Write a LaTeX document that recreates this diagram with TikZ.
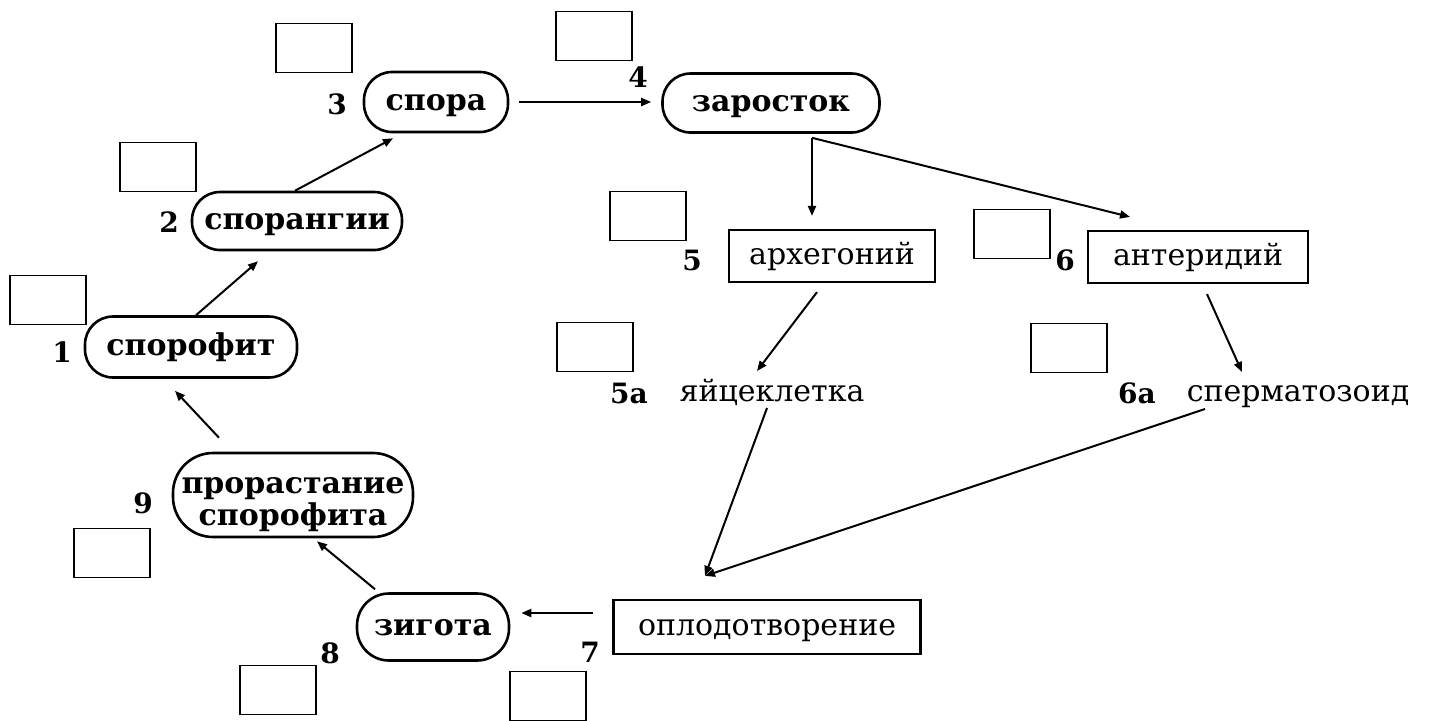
\documentclass[tikz,border=0pt]{standalone}
\usepackage{fontspec}
\setmainfont{DejaVu Serif}
\usetikzlibrary{arrows.meta}
\tikzset{
  stage/.style={draw, line width=1.3pt, rounded corners=14pt, inner sep=0pt, align=center, text height=11pt, text depth=3pt, font=\fontsize{15}{16}\selectfont\bfseries},
  organ/.style={draw, line width=1.1pt, inner sep=0pt, text height=11pt, text depth=3pt, font=\fontsize{15}{16}\selectfont},
  cell/.style={inner sep=0pt, text height=11pt, text depth=3pt, font=\fontsize{15}{16}\selectfont},
  numlbl/.style={inner sep=0pt, font=\fontsize{14}{15}\selectfont\bfseries},
  blank/.style={draw, line width=0.8pt, minimum width=38pt, minimum height=24.5pt, inner sep=0pt},
  arr/.style={-{Triangle[length=5pt,width=4pt]}, line width=1pt}
}
\begin{document}
\begin{tikzpicture}[x=0.5pt, y=-0.5pt]
  \useasboundingbox (0,0) rectangle (1434,720);
  \node[stage, minimum width=72pt, minimum height=30pt] (spora) at (436,102) {спора};
  \node[stage, minimum width=108.5pt, minimum height=29.5pt] (zarostok) at (771,103) {заросток};
  \node[stage, minimum width=105pt, minimum height=29pt] (sporangii) at (297,221) {спорангии};
  \node[stage, minimum width=106pt, minimum height=30.5pt] (sporofit) at (191,347) {спорофит};
  \node[stage, text height=32pt, text depth=2pt, rounded corners=20pt, minimum width=120pt, minimum height=42pt] (prorast) at (293,495) {прорастание\\спорофита};
  \node[stage, rounded corners=16pt, minimum width=76pt, minimum height=33.5pt] (zigota) at (433,627) {зигота};
  \node[organ, minimum width=153.5pt, minimum height=27pt] (oplod) at (767,627) {оплодотворение};
  \node[organ, minimum width=103pt, minimum height=26pt] (arhegon) at (832,256) {архегоний};
  \node[organ, minimum width=110pt, minimum height=26pt] (anterid) at (1198,257) {антеридий};
  \node[cell] (yaic) at (772,393) {яйцеклетка};
  \node[cell] (sperm) at (1298,393) {сперматозоид};

  \node[numlbl] (n1) at (62,352) {1};
  \node[numlbl] (n2) at (169,222) {2};
  \node[numlbl] (n3) at (337,104) {3};
  \node[numlbl] (n4) at (638,77) {4};
  \node[numlbl] (n5) at (692,260) {5};
  \node[numlbl] (n5a) at (629,393) {5а};
  \node[numlbl] (n6) at (1065,260) {6};
  \node[numlbl] (n6a) at (1137,393) {6а};
  \node[numlbl] (n7) at (590,652) {7};
  \node[numlbl] (n8) at (330,653) {8};
  \node[numlbl] (n9) at (143,503) {9};

  \node[blank] (b1) at (48,300) {};
  \node[blank] (b2) at (158,167) {};
  \node[blank] (b3) at (314,48) {};
  \node[blank] (b4) at (594,36) {};
  \node[blank] (b5) at (648,216) {};
  \node[blank] (b5a) at (595,347) {};
  \node[blank] (b6) at (1012,234) {};
  \node[blank] (b6a) at (1069,348) {};
  \node[blank] (b7) at (548,696) {};
  \node[blank] (b8) at (278,690) {};
  \node[blank] (b9) at (112,553) {};

  \coordinate (fork) at ([xshift=20.5pt,yshift=-2pt]zarostok.south);
  \coordinate (meet) at ([xshift=-31pt,yshift=11.5pt]oplod.north);
  \coordinate (arhtop) at ([yshift=6.5pt]arhegon.north -| fork);

  \draw[arr, shorten <=5pt, shorten >=5pt] (spora.east) -- (spora.east -| zarostok.west);
  \draw[arr] ([xshift=-1pt]sporangii.north) -- ([xshift=-21.5pt,yshift=-2.5pt]spora.south);
  \draw[arr] ([xshift=2.5pt]sporofit.north) -- ([xshift=-19.5pt,yshift=-5pt]sporangii.south);
  \draw[arr] ([xshift=-37pt,yshift=7pt]prorast.north) -- ([xshift=-8pt,yshift=-6pt]sporofit.south);
  \draw[arr] ([xshift=-29pt,yshift=1.5pt]zigota.north) -- ([xshift=12pt,yshift=-1.5pt]prorast.south);
  \draw[arr] ([xshift=-9.5pt,yshift=7pt]oplod.west) -- ([xshift=5.5pt,yshift=7pt]zigota.east);
  \draw[arr] (fork) -- (arhtop);
  \draw[arr] (fork) -- ([xshift=-34pt,yshift=6.5pt]anterid.north);
  \draw[arr] ([xshift=-7.5pt,yshift=-4.5pt]arhegon.south) -- ([xshift=-7.5pt,yshift=11pt]yaic.center);
  \draw[arr] ([xshift=4.5pt,yshift=-5pt]anterid.south) -- ([xshift=-28pt,yshift=10.5pt]sperm.center);
  \draw[arr] ([xshift=-2.5pt,yshift=-7.5pt]yaic.center) -- (meet);
  \draw[arr] ([xshift=-46.5pt,yshift=-8pt]sperm.center) -- (meet);
\end{tikzpicture}
\end{document}
